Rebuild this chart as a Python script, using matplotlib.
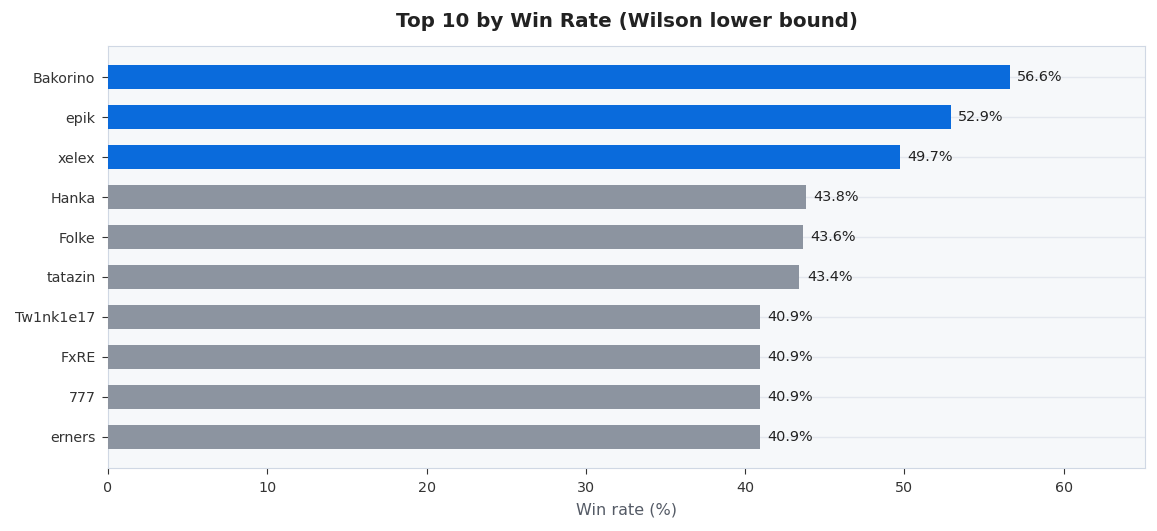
import matplotlib
matplotlib.use("Agg")
import matplotlib.pyplot as plt

# data, top to bottom
players = ["Bakorino", "epik", "xelex", "Hanka", "Folke", "tatazin",
           "Tw1nk1e17", "FxRE", "777", "erners"]
win_rate = [56.6, 52.9, 49.7, 43.8, 43.6, 43.4, 40.9, 40.9, 40.9, 40.9]
highlight = [True, True, True, False, False, False, False, False, False, False]

blue = "#0a6bdc"
grey = "#8c94a0"

fig = plt.figure(figsize=(11.57, 5.31), dpi=100)
ax = fig.add_axes([108 / 1157, 1 - 468 / 531, (1145 - 108) / 1157, (468 - 46) / 531])
ax.set_facecolor("#f6f8fa")

y = list(range(len(players)))
colors = [blue if h else grey for h in highlight]
ax.barh(y, win_rate, height=0.6, color=colors, zorder=3)
ax.set_yticks(y)
ax.set_yticklabels(players)
ax.invert_yaxis()

for yi, v in zip(y, win_rate):
    ax.annotate(f"{v:.1f}%", (v, yi), xytext=(5.5, 0), textcoords="offset points",
                va="center", ha="left", fontsize=10.4, color="#222222", zorder=4)

ax.set_xlim(0, 65.1)
ax.grid(axis="y", color="#e3e7ee", linewidth=1, zorder=0)
ax.grid(axis="x", visible=False)
for s in ax.spines.values():
    s.set_color("#d0d8e4")
ax.tick_params(labelsize=10.3, labelcolor="#333333", color="#333333", length=4, pad=5)
ax.set_xlabel("Win rate (%)", fontsize=11.5, color="#555b66", labelpad=6)
ax.set_title("Top 10 by Win Rate (Wilson lower bound)", fontsize=14.3, fontweight="bold",
             color="#222222", pad=14)

fig.savefig("out.png", dpi=100)
